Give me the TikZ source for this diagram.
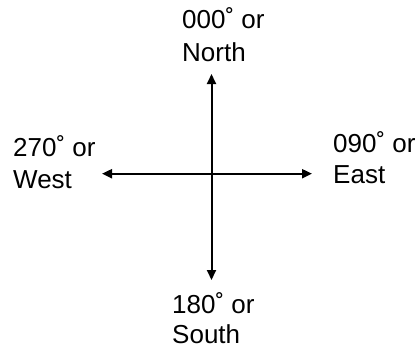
\documentclass[tikz,border=0pt]{standalone}
\usepackage{fontspec}
\setmainfont{Liberation Sans}
\usetikzlibrary{arrows.meta}
\begin{document}
\begin{tikzpicture}[x=1pt,y=-1pt,
  lbl/.style={anchor=base west,inner sep=0pt,font=\fontsize{26}{32}\selectfont},
  axis/.style={line width=2pt,{Triangle[length=10pt,width=9pt]}-{Triangle[length=10pt,width=9pt]}}]
\useasboundingbox (0,0) rectangle (420,349);
\coordinate (n) at (211.5,74);
\coordinate (s) at (211.5,280);
\coordinate (w) at (102,173.7);
\coordinate (e) at (312,173.7);
\draw[axis] (n) -- (s);
\draw[axis] (w) -- (e);
\node[lbl] (n1) at (182,28) {000˚ or};
\node[lbl] (n2) at (182,61) {North};
\node[lbl] (w1) at (13,156) {270˚ or};
\node[lbl] (w2) at (13,188) {West};
\node[lbl] (e1) at (333,152) {090˚ or};
\node[lbl] (e2) at (333,183) {East};
\node[lbl] (s1) at (172,313) {180˚ or};
\node[lbl] (s2) at (172,343) {South};
\end{tikzpicture}
\end{document}
